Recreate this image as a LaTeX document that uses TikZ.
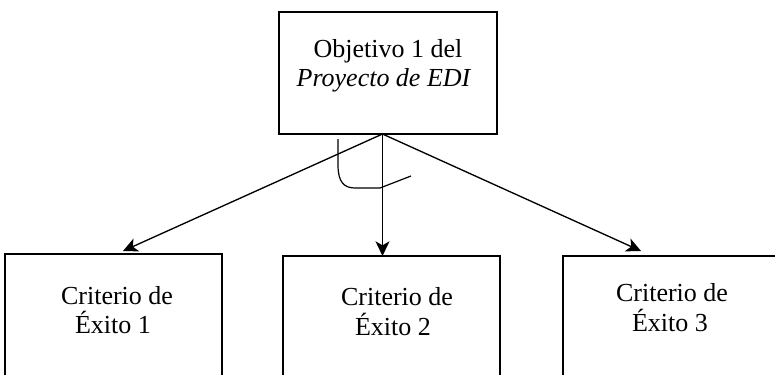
\documentclass[tikz,border=0pt]{standalone}
\usepackage{fontspec}
\setmainfont{Liberation Serif}
\usetikzlibrary{arrows.meta}
\begin{document}
\begin{tikzpicture}[x=0.75pt,y=-0.75pt,
  box/.style={draw=black,line width=1.3pt,rectangle,inner sep=0pt},
  txt/.style={anchor=base,inner sep=0pt,font=\fontsize{19.5pt}{22pt}\selectfont},
  conn/.style={draw=black,line width=1pt,-{Stealth[length=11pt,width=10.5pt,inset=3pt]}},
  anglemark/.style={draw=black,line width=0.9pt}]
\useasboundingbox (0,0) rectangle (775,375);
\clip (0,0) rectangle (775,375);
\fill[white] (0,0) rectangle (775,375);
% top box
\node[box,minimum width=163.5pt,minimum height=91.5pt] (top) at (388,73) {};
\node[txt] (t1) at (388,57) {Objetivo 1 del};
\node[txt] (t2) at (384,86) {\textit{Proyecto de EDI}};
% bottom boxes
\node[box,minimum width=162.75pt,minimum height=112.5pt] (b1) at (113.5,329) {};
\node[box,minimum width=162.75pt,minimum height=111pt] (b2) at (391.5,330) {};
\node[box,minimum width=162.75pt,minimum height=111pt] (b3) at (671.5,330) {};
\node[txt] (b1a) at (117,304) {Criterio de};
\node[txt] (b1b) at (113,333) {Éxito 1};
\node[txt] (b2a) at (397,305) {Criterio de};
\node[txt] (b2b) at (393,335) {Éxito 2};
\node[txt] (b3a) at (672,301) {Criterio de};
\node[txt] (b3b) at (670,331) {Éxito 3};
% connectors
\coordinate (apex) at (382.5,134);
\coordinate (tip1) at (123,251);
\coordinate (tip2) at (382.5,256);
\coordinate (tip3) at (641,251);
\draw[conn] (apex) -- (tip1);
\draw[conn] (apex) -- (tip2);
\draw[conn] (apex) -- (tip3);
% angle mark
\coordinate (m0) at (338,139);
\coordinate (m1) at (338,165);
\coordinate (m2) at (355,188);
\coordinate (m3) at (380,188);
\coordinate (m4) at (411,176);
\draw[anglemark] (m0) -- (m1) .. controls (338,182) and (344,188) .. (m2) -- (m3) -- (m4);
\end{tikzpicture}
\end{document}
